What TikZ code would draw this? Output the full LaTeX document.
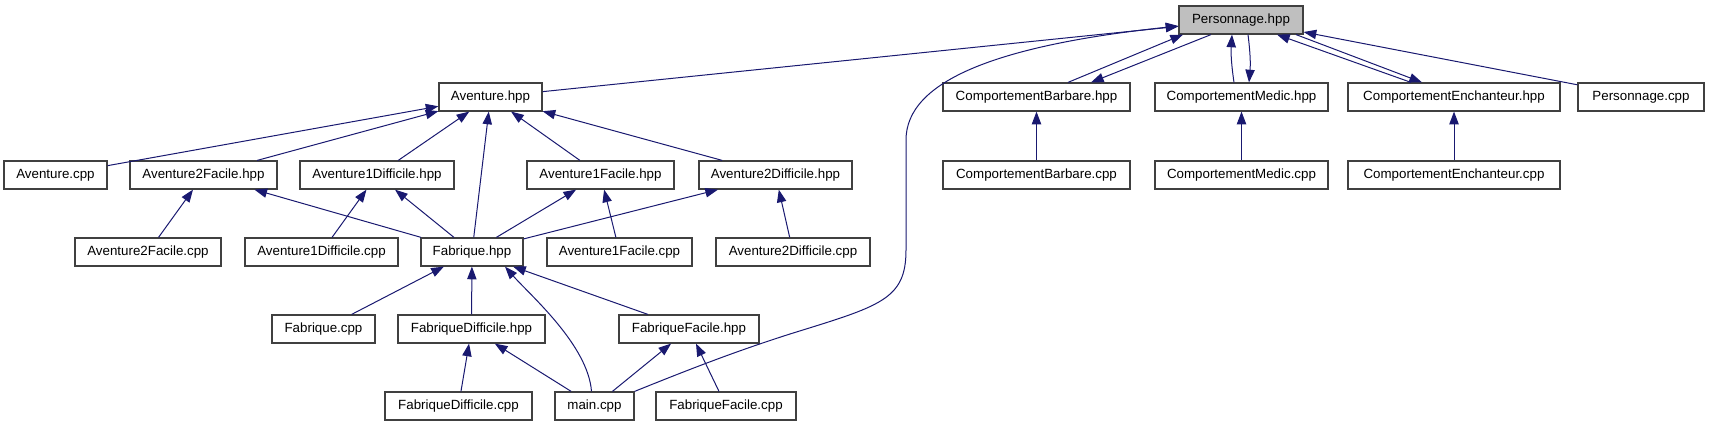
\documentclass[tikz,border=0pt]{standalone}
\usepackage{fontspec}
\setmainfont{Liberation Sans}
\usetikzlibrary{arrows.meta,calc}
\definecolor{edgec}{HTML}{191970}
\definecolor{boxc}{HTML}{404040}
\definecolor{grayf}{HTML}{BFBFBF}
\tikzset{
  box/.style={draw=boxc, line width=0.9pt, fill=white, minimum height=21pt, inner sep=0pt, font=\fontsize{10}{12}\selectfont},
  bw/.style={minimum width=#1*0.75pt},
  edge/.style={draw=edgec, line width=0.75pt, -{Triangle[length=9.5pt,width=7pt]}},
}
\begin{document}
\begin{tikzpicture}[x=0.75pt,y=-0.75pt]
\useasboundingbox (0,0) rectangle (1709,427);
% row 0
\node[box,bw=124,fill=grayf] (P) at (1241,20) {Personnage.hpp};
% row 1
\node[box,bw=103] (AvH) at (490.5,97) {Aventure.hpp};
\node[box,bw=187] (CBh) at (1036.5,97) {ComportementBarbare.hpp};
\node[box,bw=173] (CMh) at (1241.5,97) {ComportementMedic.hpp};
\node[box,bw=212] (CEh) at (1454,97) {ComportementEnchanteur.hpp};
\node[box,bw=126] (Pcpp) at (1641,97) {Personnage.cpp};
% row 2
\node[box,bw=103] (Avcpp) at (55.5,175) {Aventure.cpp};
\node[box,bw=147] (Av2Fh) at (203.5,175) {Aventure2Facile.hpp};
\node[box,bw=154] (Av1Dh) at (377,175) {Aventure1Difficile.hpp};
\node[box,bw=147] (Av1Fh) at (600.5,175) {Aventure1Facile.hpp};
\node[box,bw=153] (Av2Dh) at (775.5,175) {Aventure2Difficile.hpp};
\node[box,bw=187] (CBc) at (1036.5,175) {ComportementBarbare.cpp};
\node[box,bw=173] (CMc) at (1241.5,175) {ComportementMedic.cpp};
\node[box,bw=212] (CEc) at (1454,175) {ComportementEnchanteur.cpp};
% row 3
\node[box,bw=146] (Av2Fc) at (148,252) {Aventure2Facile.cpp};
\node[box,bw=153] (Av1Dc) at (321.5,252) {Aventure1Difficile.cpp};
\node[box,bw=102] (Fh) at (472,252) {Fabrique.hpp};
\node[box,bw=145] (Av1Fc) at (619.5,252) {Aventure1Facile.cpp};
\node[box,bw=154] (Av2Dc) at (793,252) {Aventure2Difficile.cpp};
% row 4
\node[box,bw=103] (Fc) at (323.5,329) {Fabrique.cpp};
\node[box,bw=147] (FDh) at (471.5,329) {FabriqueDifficile.hpp};
\node[box,bw=140] (FFh) at (689,329) {FabriqueFacile.hpp};
% row 5
\node[box,bw=147] (FDc) at (458.5,406) {FabriqueDifficile.cpp};
\node[box,bw=79] (main) at (594.5,406) {main.cpp};
\node[box,bw=140] (FFc) at (726,406) {FabriqueFacile.cpp};

% edges to Personnage.hpp
\draw[edge] (AvH) -- (P);
\draw[edge] (main.north east) .. controls (700,365) and (740,350) .. (790,334)
  .. controls (880,306) and (906,300) .. (906,250) -- (906,140)
  .. controls (906,80) and (1000,45) .. ($(P.west)+(0,6)$);
\draw[edge] ($(CBh.north)+(31.5,0)$) -- ($(P.south)+(-58,0)$);
\draw[edge] ($(P.south)+(-30,0)$) -- ($(CBh.north)+(54.5,0)$);
\draw[edge] ($(CMh.north)+(-7.5,0)$) to[bend left=6] ($(P.south)+(-9,0)$);
\draw[edge] ($(P.south)+(7,0)$) to[bend left=6] ($(CMh.north)+(7.5,0)$);
\draw[edge] ($(CEh.north)+(-43,0)$) -- ($(P.south)+(36,0)$);
\draw[edge] ($(P.south)+(55,0)$) -- ($(CEh.north)+(-32,0)$);
\draw[edge] (Pcpp) -- (P);
% comportement cpp
\draw[edge] (CBc) -- (CBh);
\draw[edge] (CMc) -- (CMh);
\draw[edge] (CEc) -- (CEh);
% to Aventure.hpp
\draw[edge] (Avcpp) -- (AvH);
\draw[edge] (Av2Fh) -- (AvH);
\draw[edge] (Av1Dh) -- (AvH);
\draw[edge] (Fh) -- (AvH);
\draw[edge] (Av1Fh) -- (AvH);
\draw[edge] (Av2Dh) -- (AvH);
% row 3 to row 2
\draw[edge] (Av2Fc) -- (Av2Fh);
\draw[edge] (Fh) -- (Av2Fh);
\draw[edge] (Av1Dc) -- (Av1Dh);
\draw[edge] (Fh) -- (Av1Dh);
\draw[edge] (Fh) -- (Av1Fh);
\draw[edge] (Av1Fc) -- (Av1Fh);
\draw[edge] (Fh) -- (Av2Dh);
\draw[edge] (Av2Dc) -- (Av2Dh);
% row 4 to Fabrique.hpp
\draw[edge] (Fc) -- (Fh);
\draw[edge] (FDh) -- (Fh);
\draw[edge] (FFh) -- (Fh);
\draw[edge] ($(main.north)+(-3,0)$) .. controls (588,345) and (530,295) .. ($(Fh.south)+(33,0)$);
% row 5
\draw[edge] (FDc) -- (FDh);
\draw[edge] (main) -- (FDh);
\draw[edge] (main) -- (FFh);
\draw[edge] (FFc) -- (FFh);
\end{tikzpicture}
\end{document}
